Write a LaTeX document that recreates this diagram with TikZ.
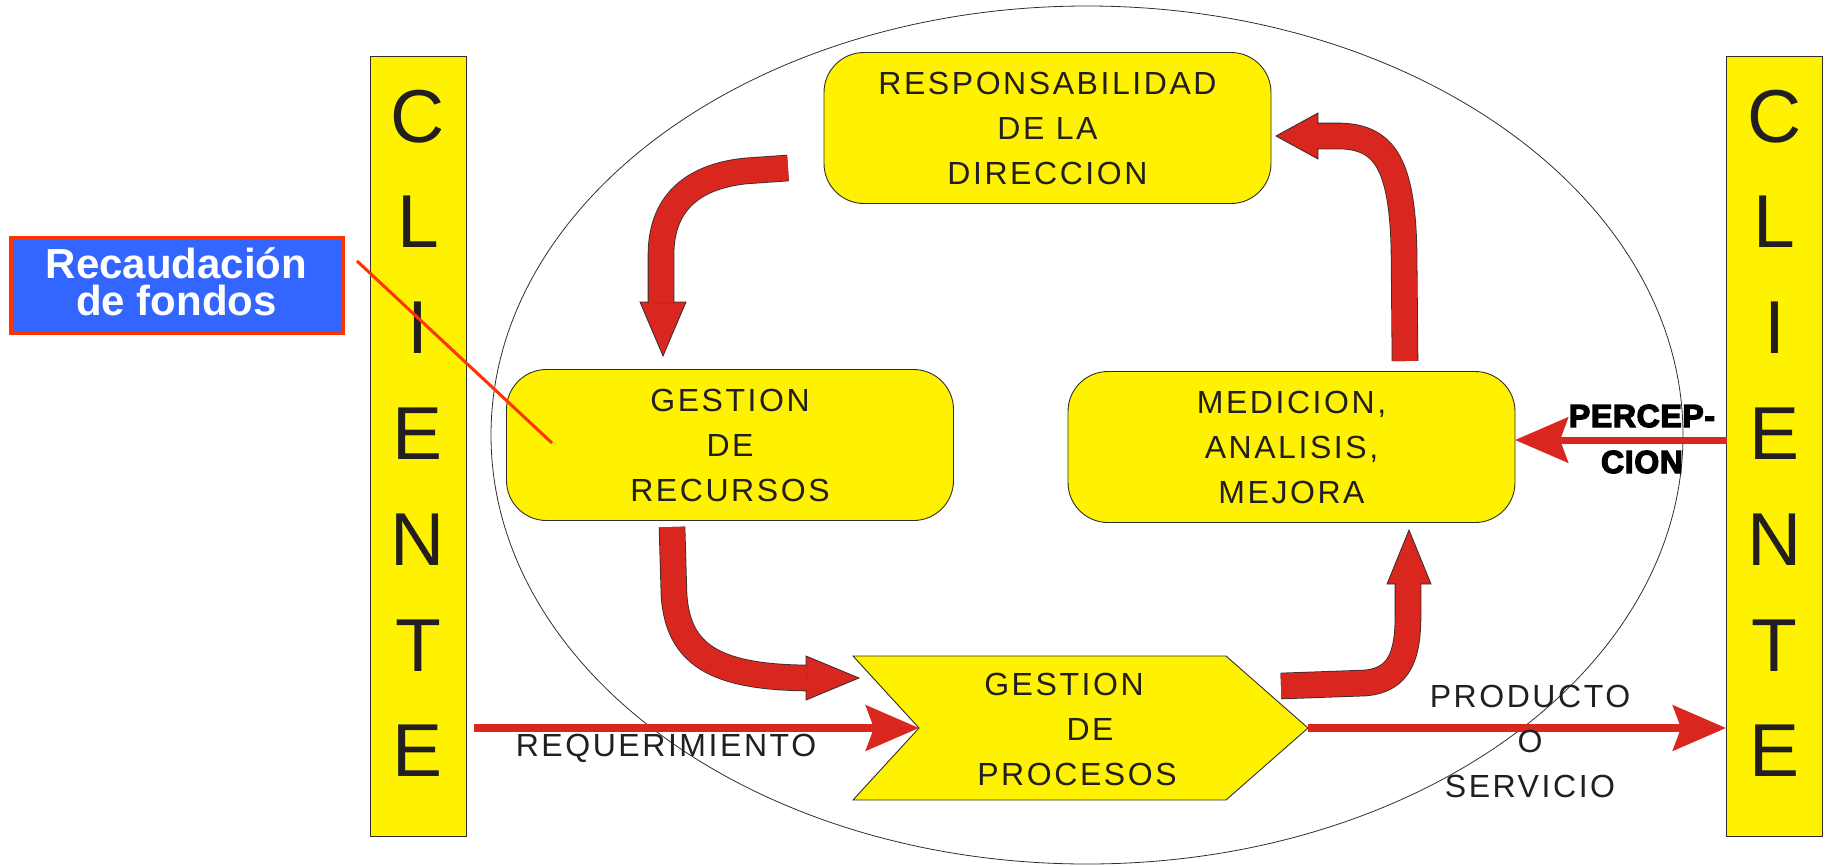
\documentclass[tikz,border=0pt]{standalone}
\usepackage{fontspec}
\setmainfont{Liberation Sans}
\newfontfamily\boxfont[LetterSpace=8]{Liberation Sans}
\newfontfamily\blackfont[BoldFeatures={FakeBold=4,LetterSpace=2}]{Liberation Sans}
\usetikzlibrary{arrows.meta}
\definecolor{ylw}{RGB}{255,242,0}
\definecolor{arrred}{RGB}{217,38,30}
\definecolor{outl}{RGB}{50,45,45}
\definecolor{fblue}{RGB}{51,102,255}
\definecolor{forange}{RGB}{255,51,0}
\definecolor{txt}{RGB}{35,31,32}
\begin{document}
\begin{tikzpicture}[x=1pt,y=-1pt,
  ybox/.style={draw=outl, line width=0.9pt, fill=ylw, rounded corners=40pt,
    minimum width=447pt, minimum height=151pt, inner sep=0pt, align=center,
    text=txt, font=\boxfont\fontsize{32}{45}\selectfont},
  bar/.style={draw=outl, line width=0.9pt, fill=ylw, minimum width=96pt,
    minimum height=780pt, inner sep=0pt},
  barletter/.style={text=txt, font=\fontsize{75}{75}\selectfont, inner sep=0pt, anchor=base},
  lbl/.style={text=txt, font=\boxfont\fontsize{32}{45}\selectfont, align=center, inner sep=0pt},
  perc/.style={text=black, font=\blackfont\bfseries\fontsize{32}{46}\selectfont, align=center, inner sep=0pt},
  thinarrow/.style={draw=arrred, line width=8pt, -{Stealth[length=53pt,width=45pt,inset=8pt]}},
  shaft/.style={draw=outl, line width=0.8pt, double=arrred, double distance=25pt},
  head/.style={fill=arrred, draw=outl, line width=0.8pt, line join=miter},
  fundbox/.style={draw=forange, line width=4pt, fill=fblue, minimum width=332pt,
    minimum height=95pt, inner sep=0pt, text=white, align=center, text depth=8pt,
    font=\bfseries\fontsize{42}{37}\selectfont}
]
\useasboundingbox (0,0) rectangle (1826,865);

% enclosing ellipse
\draw[outl, line width=0.8pt] (1087,435) ellipse [x radius=596pt, y radius=429pt];

% client bars
\node[bar] (lbar) at (418,446) {};
\node[bar] (rbar) at (1774.5,446) {};
\foreach \L [count=\i] in {C,L,I,E,N,T,E} {
  \node[barletter] (lc\i) at (418,{142+105.8*(\i-1)}) {\L};
  \node[barletter] (rc\i) at (1774.5,{142+105.8*(\i-1)}) {\L};
}

% fund raising box
\node[fundbox] (funds) at (176.5,285.5) {Recaudación\\de fondos};

% process boxes
\node[ybox] (resp) at (1047.5,128) {RESPONSABILIDAD\\DE LA\\DIRECCION};
\node[ybox] (rec) at (730,445) {GESTION\\DE\\RECURSOS};
\node[ybox] (med) at (1291.5,447) {MEDICION,\\ANALISIS,\\MEJORA};

% process pentagon
\coordinate (pTL) at (853,656);
\coordinate (pTR) at (1226,656);
\coordinate (pTip) at (1308,728);
\coordinate (pBR) at (1226,800);
\coordinate (pBL) at (853,800);
\coordinate (pNotch) at (919,728);
\draw[draw=outl, line width=0.9pt, fill=ylw, line join=miter]
  (pTL) -- (pTR) -- (pTip) -- (pBR) -- (pBL) -- (pNotch) -- cycle;
\node[lbl] (proc) at (1077,729) {GESTION\hspace*{26pt}\\\hspace*{26pt}DE\\PROCESOS};

% block arrows
\coordinate (a1s) at (788,168);
\coordinate (a1t) at (663,356);
\filldraw[head] (a1t) -- ++(-23,-54) -- ++(46,0) -- cycle;
\draw[shaft] (a1s) -- (745,171) .. controls (690,177) and (661,205) .. (661,255) -- (661,303);

\coordinate (a2s) at (672,527);
\coordinate (a2t) at (859,678);
\filldraw[head] (a2t) -- ++(-53,-22) -- ++(0,44) -- cycle;
\draw[shaft] (a2s) -- (674,595) .. controls (678,655) and (715,677) .. (807,678);

\coordinate (a3s) at (1281,686);
\coordinate (a3t) at (1409,530);
\filldraw[head] (a3t) -- ++(-22,54) -- ++(44,0) -- cycle;
\draw[shaft] (a3s) -- (1365,683) .. controls (1400,680) and (1408,655) .. (1408,615) -- (1408,583);

\coordinate (a4s) at (1405,361);
\coordinate (a4t) at (1276,136);
\filldraw[head] (a4t) -- ++(42,-23) -- ++(0,46) -- cycle;
\draw[shaft] (a4s) -- (1404,250) .. controls (1402,165) and (1385,137) .. (1340,136) -- (1317,136);

% thin arrows
\coordinate (reqS) at (474,728);
\draw[thinarrow] (reqS) -- (pNotch);
\node[lbl] (req) at (666,748) {REQUERIMIENTO};

\coordinate (prodE) at (rbar.west |- pTip);
\draw[thinarrow] (pTip) -- (prodE);
\node[lbl] (prod) at (1530,741) {PRODUCTO\\O\\SERVICIO};

\coordinate (percS) at (1727,440);
\coordinate (percE) at (1515,440);
\draw[thinarrow, line width=7pt] (percS) -- (percE);
\node[perc] (percl) at (1642,439) {PERCEP-\\CION};

% pointer line
\coordinate (fA) at (357,261);
\coordinate (fB) at (552,443);
\draw[forange, line width=3pt] (fA) -- (fB);
\end{tikzpicture}
\end{document}
